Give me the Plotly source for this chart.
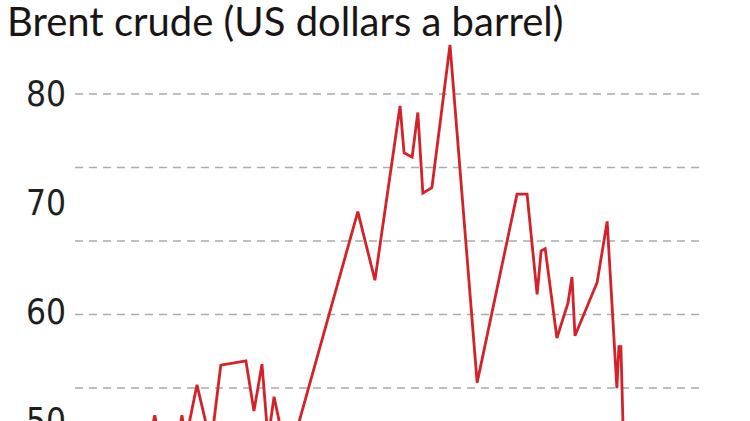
import plotly.graph_objects as go

# Brent crude, US dollars a barrel
dates = [
    "2016-04-20", "2016-05-05", "2016-05-20", "2016-07-13", "2016-07-25",
    "2016-08-06", "2016-09-08", "2016-10-20", "2016-11-18", "2017-02-01",
    "2017-02-25", "2017-03-21", "2017-04-08", "2017-04-26", "2017-06-06",
    "2018-01-01", "2018-02-21", "2018-05-07", "2018-05-19", "2018-06-12",
    "2018-06-29", "2018-07-14", "2018-08-10", "2018-10-03", "2018-12-23",
    "2019-04-21", "2019-05-21", "2019-06-20", "2019-07-02", "2019-07-14",
    "2019-08-18", "2019-09-20", "2019-10-02", "2019-10-11", "2019-12-16",
    "2020-01-15", "2020-02-13", "2020-02-19", "2020-02-25", "2020-03-02",
    "2020-03-17",
]
prices = [
    48.3, 50.5, 48.3, 48.3, 50.5,
    48.3, 53.3, 47.8, 55.1, 55.5,
    50.9, 55.2, 48.3, 52.2, 46.2,
    69.2, 62.9, 78.9, 74.6, 74.2,
    78.3, 70.9, 71.4, 84.5, 53.5,
    70.8, 70.8, 61.6, 65.6, 65.8,
    57.6, 60.8, 63.2, 57.8, 62.7,
    68.3, 53.0, 56.8, 56.8, 50.0,
    44.6,
]
tick_values = [50, 60, 70, 80]
grid_values = [53.0, 59.75, 66.5, 73.25, 80.0]

title_text = "Brent crude (US dollars a barrel)"

fig = go.Figure()
fig.add_trace(go.Scatter(
    x=dates, y=prices, mode="lines",
    line=dict(color="#d3222a", width=2.8),
    hoverinfo="skip",
))

shapes = [
    dict(type="line", xref="paper", x0=0, x1=1, yref="y", y0=g, y1=g,
         line=dict(color="#ababab", width=1.5, dash="8px,6px"), layer="below")
    for g in grid_values
]

fig.update_layout(
    width=750, height=421,
    margin=dict(l=75, r=48, t=38, b=0, autoexpand=False),
    paper_bgcolor="white", plot_bgcolor="white",
    showlegend=False,
    shapes=shapes,
    title=dict(
        text=title_text,
        x=7 / 750, xanchor="left", xref="container",
        y=1 - 8 / 421, yanchor="top", yref="container",
        font=dict(family="Lato, Open Sans, sans-serif", size=40, color="#1a1414"),
    ),
    xaxis=dict(visible=False, range=["2015-09-10", "2020-10-24"], automargin=False),
    yaxis=dict(
        range=[49.98, 85.14],
        automargin=False,
        tickvals=tick_values,
        ticktext=[str(v) for v in tick_values],
        showgrid=False, zeroline=False, showline=False,
        ticks="outside", ticklen=1, tickcolor="rgba(0,0,0,0)",
        ticklabeloverflow="allow",
        tickfont=dict(family="Liberation Sans Narrow, DejaVu Sans Condensed, sans-serif",
                      size=35, color="#1f1f1f"),
    ),
)

fig.write_html("out.html", config={"displayModeBar": False},
               post_script="document.body.style.margin='0';")
